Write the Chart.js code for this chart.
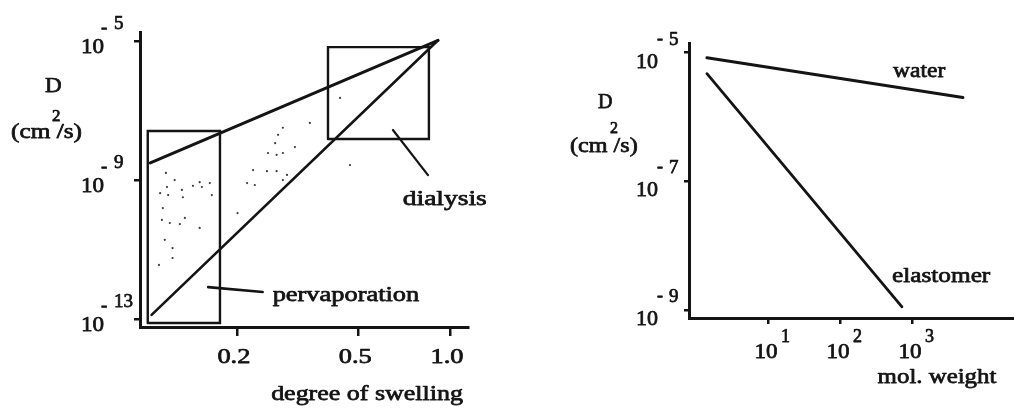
<!DOCTYPE html>
<html>
<head>
<meta charset="utf-8">
<script src="https://cdn.jsdelivr.net/npm/chart.js@4.4.1/dist/chart.umd.min.js"></script>
<style>
  html, body { margin: 0; padding: 0; background: #fff; }
  #wrap { position: relative; width: 1014px; height: 408px; overflow: hidden; }
  canvas { position: absolute; left: 0; top: 0; }
</style>
</head>
<body>
<div id="wrap">
  <canvas id="swell" width="1014" height="408"></canvas>
  <canvas id="molw" width="1014" height="408"></canvas>
</div>
<script>
// ---- Left panel: diffusion coefficient D (cm^2/s) vs degree of swelling ----
const swellTicks = [0.2, 0.5, 1.0];
const swellTickLabels = ['0.2', '0.5', '1.0'];
const swellDTicks = [1e-13, 1e-9, 1e-5];

// upper and lower bounding lines
const upperSwell = [0.104, 0.914];
const upperD = [3.1e-9, 1.05e-5];
const lowerSwell = [0.105, 0.914];
const lowerD = [1.32e-13, 1.05e-5];

// regions (swelling range, D range)
const pervapBoxSwell = [0.102, 0.176];
const pervapBoxD = [7.7e-14, 2.57e-8];
const dialysisBoxSwell = [0.398, 0.853];
const dialysisBoxD = [1.51e-8, 6.7e-6];

// label leaders
const dialysisLeaderSwell = [0.650, 0.847];
const dialysisLeaderD = [2.75e-8, 1.38e-9];
const pervapLeaderSwell = [0.161, 0.243];
const pervapLeaderD = [8.3e-13, 6.0e-13];

// stippled measurements between the bounds
const stippleSwell = [0.117, 0.118, 0.125, 0.132, 0.1435, 0.151, 0.163, 0.1535, 0.112, 0.119,
                      0.133, 0.1143, 0.1135, 0.1205, 0.130, 0.135, 0.151, 0.116, 0.123, 0.123,
                      0.111, 0.1655, 0.283, 0.273, 0.267, 0.253, 0.270, 0.283, 0.310, 0.226,
                      0.251, 0.270, 0.292, 0.283, 0.216, 0.229, 0.201, 0.347, 0.436, 0.470];
const stippleD = [1.6e-9, 6.3e-10, 1.0e-9, 5.2e-10, 6.8e-10, 8.7e-10, 8.2e-10, 6.3e-10, 4.2e-10, 3.7e-10,
                  3.2e-10, 1.56e-10, 7.1e-11, 5.8e-11, 5.4e-11, 8.1e-11, 4.2e-11, 1.9e-11, 1.1e-11, 5.7e-12,
                  3.6e-12, 3.7e-10, 3.2e-8, 2.0e-8, 1.15e-8, 6.0e-9, 5.3e-9, 6.0e-9, 8.9e-9, 1.94e-9,
                  1.8e-9, 1.8e-9, 1.4e-9, 1.0e-9, 8.2e-10, 7.2e-10, 1.12e-10, 4.4e-8, 2.3e-7, 2.7e-9];

const swellRegionLabels = ['dialysis', 'pervaporation'];
const swellLabelSwell = [0.70, 0.262];
const swellLabelD = [1.9e-10, 3.3e-13];

// ---- Right panel: D vs molecular weight ----
const molTicks = [10, 100, 1000];
const molDTicks = [1e-9, 1e-7, 1e-5];
const waterMol = [1.42, 5100];
const waterD = [8.3e-6, 2.0e-6];
const elastomerMol = [1.42, 726];
const elastomerD = [4.7e-6, 1.12e-9];

const molSeriesLabels = ['water', 'elastomer'];
const molLabelMol = [544, 527];
const molLabelD = [4.17e-6, 2.73e-9];

// ---- helpers ----
const INK = '#141414';
const FONT = '"Liberation Serif", "DejaVu Serif", serif';

function pts(xs, ys) { return xs.map((x, i) => ({ x: x, y: ys[i] })); }
function box(xs, ys) {
  return [
    { x: xs[0], y: ys[0] }, { x: xs[1], y: ys[0] },
    { x: xs[1], y: ys[1] }, { x: xs[0], y: ys[1] }, { x: xs[0], y: ys[0] }
  ];
}
function line(data, width) {
  return { data: data, showLine: true, borderColor: INK, borderWidth: width,
           pointRadius: 0, tension: 0, fill: false, borderCapStyle: 'round', borderJoinStyle: 'miter' };
}
function axis(pos, min, max, ticks, tickLen) {
  return {
    type: 'logarithmic', position: pos, min: min, max: max,
    ticks: { display: false },
    grid: { display: true, drawOnChartArea: false, drawTicks: true, tickLength: tickLen,
            tickWidth: 2.5, tickColor: INK, color: INK, lineWidth: 2.5 },
    border: { display: true, color: INK, width: 3 },
    afterBuildTicks: s => { s.ticks = ticks.map(v => ({ value: v })); },
    afterFit: s => { if (pos === 'left') { s.width = 0; } else { s.height = 0; } }
  };
}
// heavy printed-look text: fill plus a thin outline of the same ink
function text(ctx, str, x, y, size, align, sx) {
  ctx.save();
  ctx.font = size + 'px ' + FONT;
  ctx.fillStyle = INK;
  ctx.strokeStyle = INK;
  ctx.lineWidth = 0.75;
  ctx.lineJoin = 'round';
  ctx.textAlign = align || 'left';
  ctx.textBaseline = 'alphabetic';
  ctx.translate(x, y);
  ctx.scale(sx || 1, 1);
  ctx.fillText(str, 0, 0);
  ctx.strokeText(str, 0, 0);
  ctx.restore();
}
function expOf(v) { return String(Math.round(Math.log10(v))); }

const common = {
  responsive: false, animation: false, devicePixelRatio: 1,
  plugins: { legend: { display: false }, tooltip: { enabled: false } }
};

// ---- left chart ----
new Chart(document.getElementById('swell'), {
  type: 'scatter',
  data: {
    datasets: [
      line(pts(upperSwell, upperD), 3),
      line(pts(lowerSwell, lowerD), 2.6),
      line(box(pervapBoxSwell, pervapBoxD), 2.4),
      line(box(dialysisBoxSwell, dialysisBoxD), 2.4),
      line(pts(dialysisLeaderSwell, dialysisLeaderD), 2.2),
      line(pts(pervapLeaderSwell, pervapLeaderD), 2.6),
      { data: pts(stippleSwell, stippleD), showLine: false, pointRadius: 1.1,
        pointBackgroundColor: '#3a3a3a', pointBorderWidth: 0 }
    ]
  },
  options: Object.assign({}, common, {
    layout: { padding: { left: 140, top: 32, right: 1014 - 468, bottom: 408 - 327 } },
    scales: {
      x: axis('bottom', 0.0962, 1.146, swellTicks, 9),
      y: axis('left', 5.9e-14, 1.82e-5, swellDTicks, 6)
    }
  }),
  plugins: [{
    id: 'swellText',
    afterDraw(chart) {
      const ctx = chart.ctx, xs = chart.scales.x, ys = chart.scales.y;
      swellDTicks.forEach(t => {
        const py = ys.getPixelForValue(t);
        text(ctx, '10', 104, py + 12, 22, 'right', 1.05);
        text(ctx, '-', 101, py - 8, 19, 'left');
        text(ctx, expOf(t).replace('-', ''), 114, py - 12, 19, 'left');
      });
      swellTicks.forEach((t, i) => {
        text(ctx, swellTickLabels[i], xs.getPixelForValue(t) - 3, 363, 22, 'center', 1.2);
      });
      text(ctx, 'degree of swelling', 367, 400, 22, 'center', 1.18);
      text(ctx, 'D', 45, 92, 22, 'left', 1.05);
      text(ctx, '2', 52, 121, 17, 'left');
      text(ctx, '(cm /s)', 11, 138, 22, 'left', 1.15);
      swellRegionLabels.forEach((s, i) => {
        text(ctx, s, xs.getPixelForValue(swellLabelSwell[i]), ys.getPixelForValue(swellLabelD[i]),
             22, 'left', i === 0 ? 1.25 : 1.2);
      });
    }
  }]
});

// ---- right chart ----
new Chart(document.getElementById('molw'), {
  type: 'scatter',
  data: {
    datasets: [
      line(pts(waterMol, waterD), 3),
      line(pts(elastomerMol, elastomerD), 2.8)
    ]
  },
  options: Object.assign({}, common, {
    layout: { padding: { left: 689, top: 43, right: 1, bottom: 408 - 318 } },
    scales: {
      x: axis('bottom', 0.80, 25300, molTicks, 6),
      y: axis('left', 7.5e-10, 1.41e-5, molDTicks, 5)
    }
  }),
  plugins: [{
    id: 'molText',
    afterDraw(chart) {
      const ctx = chart.ctx, xs = chart.scales.x, ys = chart.scales.y;
      molDTicks.forEach(t => {
        const py = ys.getPixelForValue(t);
        text(ctx, '10', 658, py + 15, 22, 'right', 1.0);
        text(ctx, '-', 657, py - 9, 18, 'left');
        text(ctx, expOf(t).replace('-', ''), 669, py - 8, 19, 'left');
      });
      molTicks.forEach(t => {
        const px = xs.getPixelForValue(t);
        text(ctx, '10', px - 2, 358, 22, 'center', 1.05);
        text(ctx, expOf(t), px + 13, 342, 18, 'left');
      });
      text(ctx, 'mol. weight', 937, 383, 22, 'center', 1.13);
      text(ctx, 'D', 598, 108, 20, 'left');
      text(ctx, '2', 610, 133, 16, 'left');
      text(ctx, '(cm /s)', 570, 152, 21, 'left', 1.15);
      molSeriesLabels.forEach((s, i) => {
        text(ctx, s, xs.getPixelForValue(molLabelMol[i]), ys.getPixelForValue(molLabelD[i]),
             22, 'left', i === 0 ? 1.07 : 1.15);
      });
    }
  }]
});
</script>
</body>
</html>
